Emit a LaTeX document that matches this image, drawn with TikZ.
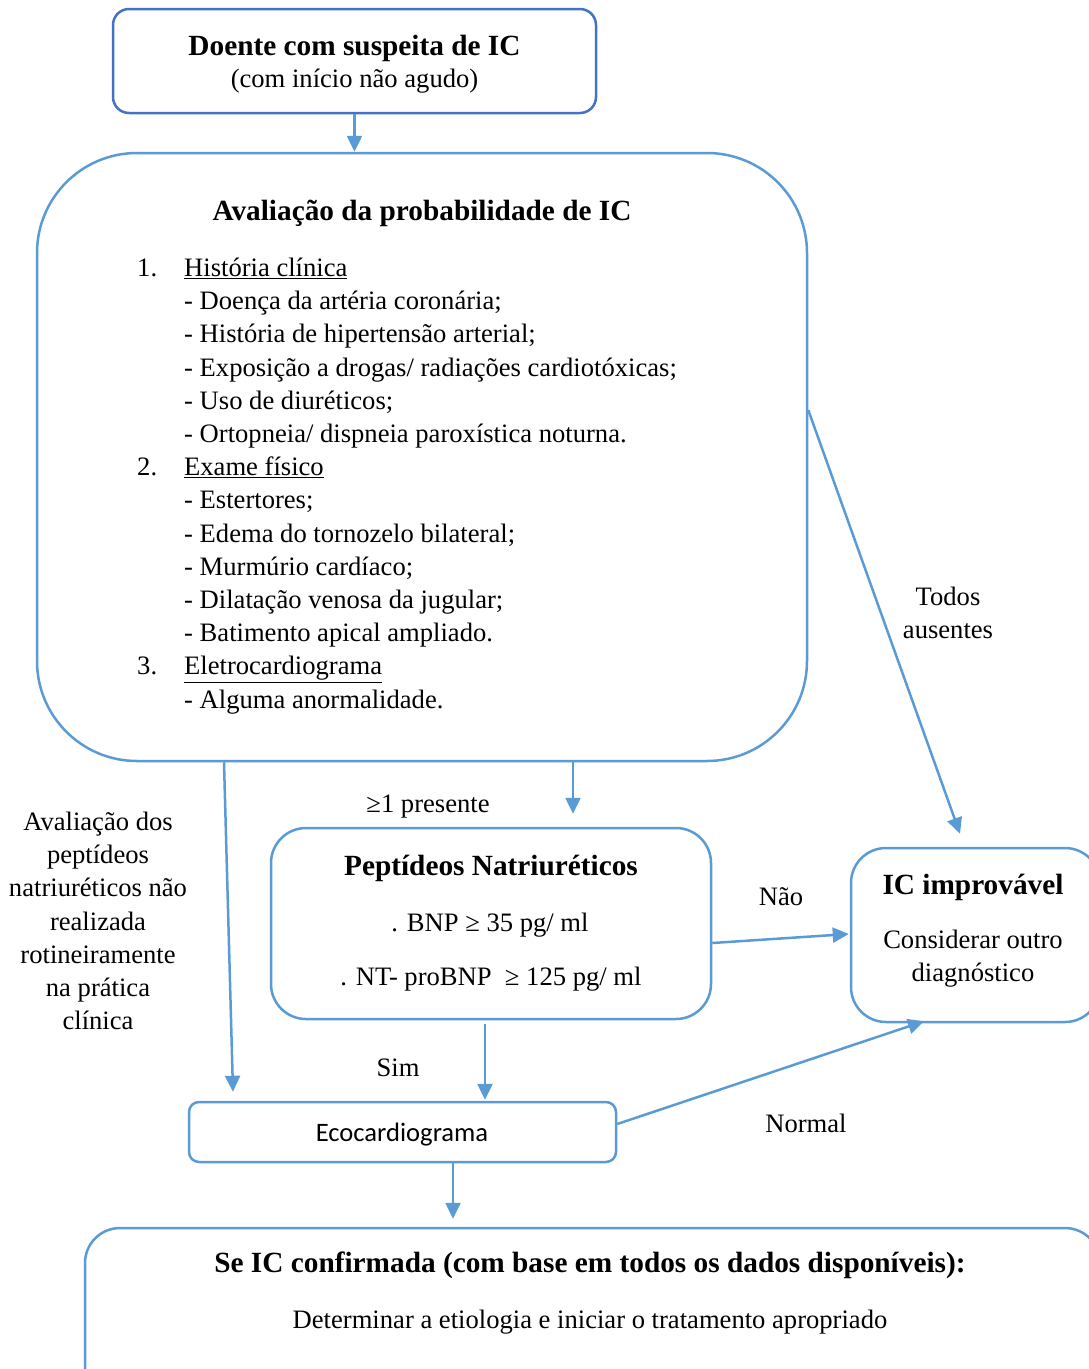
\documentclass[tikz,border=0pt]{standalone}
\usepackage{fontspec}
\setmainfont{Liberation Serif}
\newfontfamily\calibrifont{Carlito}
\usetikzlibrary{arrows.meta,calc}
\definecolor{lblue}{RGB}{91,155,213}
\definecolor{dblue}{RGB}{68,114,196}
\begin{document}
\begin{tikzpicture}[x=1pt,y=-1pt,
  box/.style={draw=lblue, line width=2.5pt, fill=white, inner sep=0pt},
  arr/.style={draw=lblue, line width=2.5pt, -{Triangle[length=16pt,width=15pt]}},
  body/.style={font=\fontsize{26.6}{33.2}\selectfont, inner sep=0pt, text height=0.68em, text depth=0.2em},
  multi/.style={font=\fontsize{26.6}{33.2}\selectfont, inner sep=0pt, align=center},
  head/.style={font=\fontsize{29.3}{34}\selectfont\bfseries, inner sep=0pt, text height=0.68em, text depth=0.2em},
]
\useasboundingbox (0,0) rectangle (1089,1369);
\clip (0,0) rectangle (1089,1369);

% boxes
\node[box, draw=dblue, rounded corners=16pt, minimum width=483pt, minimum height=104pt] (top) at (354.5,61) {};
\node[box, rounded corners=100pt, minimum width=770pt, minimum height=608pt] (big) at (422,457) {};
\node[box, rounded corners=35pt, minimum width=440pt, minimum height=191pt] (pep) at (491,923.5) {};
\node[box, rounded corners=35pt, minimum width=249pt, minimum height=174pt] (imp) at (975.5,935) {};
\node[box, rounded corners=10pt, minimum width=427pt, minimum height=60pt] (eco) at (402.5,1132) {};
\node[box, rounded corners=35pt, minimum width=1015pt, minimum height=172pt] (bot) at (592.5,1314) {};

% texts in boxes
\node[head] (t1) at (354.5,53) {Doente com suspeita de IC};
\node[body] (t2) at (354.5,85) {(com início não agudo)};
\node[head] (b1) at (422,218) {Avaliação da probabilidade de IC};
\node[anchor=base west, font=\fontsize{26.6}{33.2}\selectfont, inner sep=0pt, align=left] (list) at (137,708) {%
\makebox[47pt][l]{1.}\underline{História clínica}\\
\hspace*{47pt}- Doença da artéria coronária;\\
\hspace*{47pt}- História de hipertensão arterial;\\
\hspace*{47pt}- Exposição a drogas/ radiações cardiotóxicas;\\
\hspace*{47pt}- Uso de diuréticos;\\
\hspace*{47pt}- Ortopneia/ dispneia paroxística noturna.\\
\makebox[47pt][l]{2.}\underline{Exame físico}\\
\hspace*{47pt}- Estertores;\\
\hspace*{47pt}- Edema do tornozelo bilateral;\\
\hspace*{47pt}- Murmúrio cardíaco;\\
\hspace*{47pt}- Dilatação venosa da jugular;\\
\hspace*{47pt}- Batimento apical ampliado.\\
\makebox[47pt][l]{3.}\underline{Eletrocardiograma}\\
\hspace*{47pt}- Alguma anormalidade.};
\node[head] (p1) at (491,873) {Peptídeos Natriuréticos};
\node[body] (p2) at (490,929) {. BNP ≥ 35 pg/ ml};
\node[body] (p3) at (491,983) {. NT- proBNP \ ≥ 125 pg/ ml};
\node[head] (i1) at (973,892) {IC improvável};
\node[multi] (i2) at (973,959) {Considerar outro\\diagnóstico};
\node[body, font=\calibrifont\fontsize{26.6}{33.2}\selectfont] (e1) at (402,1139) {Ecocardiograma};
\node[head] (s1) at (590,1270) {Se IC confirmada (com base em todos os dados disponíveis):};
\node[body] (s2) at (590,1326) {Determinar a etiologia e iniciar o tratamento apropriado};

% labels
\node[body] (lpres) at (428,810) {≥1 presente};
\node[multi] (ltodos) at (948,613) {Todos\\ausentes};
\node[body] (lnao) at (781,903) {Não};
\node[body] (lsim) at (398,1074) {Sim};
\node[body] (lnormal) at (806,1130) {Normal};
\node[multi] (lleft) at (98,921) {Avaliação dos\\peptídeos\\natriuréticos não\\realizada\\rotineiramente\\na prática\\clínica};

% connectors
\draw[arr] (top.south) -- (top.south |- big.north);
\draw[arr] ($(big.south)+(151,0)$) -- ($(pep.north)+(82,-13)$);
\draw[arr] ($(big.south)+(-198,0)$) -- ($(eco.north)+(-169.5,-9)$);
\draw[arr] ($(big.east)+(0,-47)$) -- ($(imp.north)+(-15.5,-13)$);
\draw[arr] ($(pep.east)+(0,19.5)$) -- ($(imp.west)+(-1,-1)$);
\draw[arr] ($(pep.south)+(-6,4)$) -- ($(eco.north)+(82.5,-1)$);
\draw[arr] ($(eco.east)+(0,-8)$) -- ($(imp.south)+(-51.5,-2)$);
\draw[arr] ($(eco.south)+(50.5,0)$) -- ($(bot.north)+(-139.5,-8)$);
\end{tikzpicture}
\end{document}
